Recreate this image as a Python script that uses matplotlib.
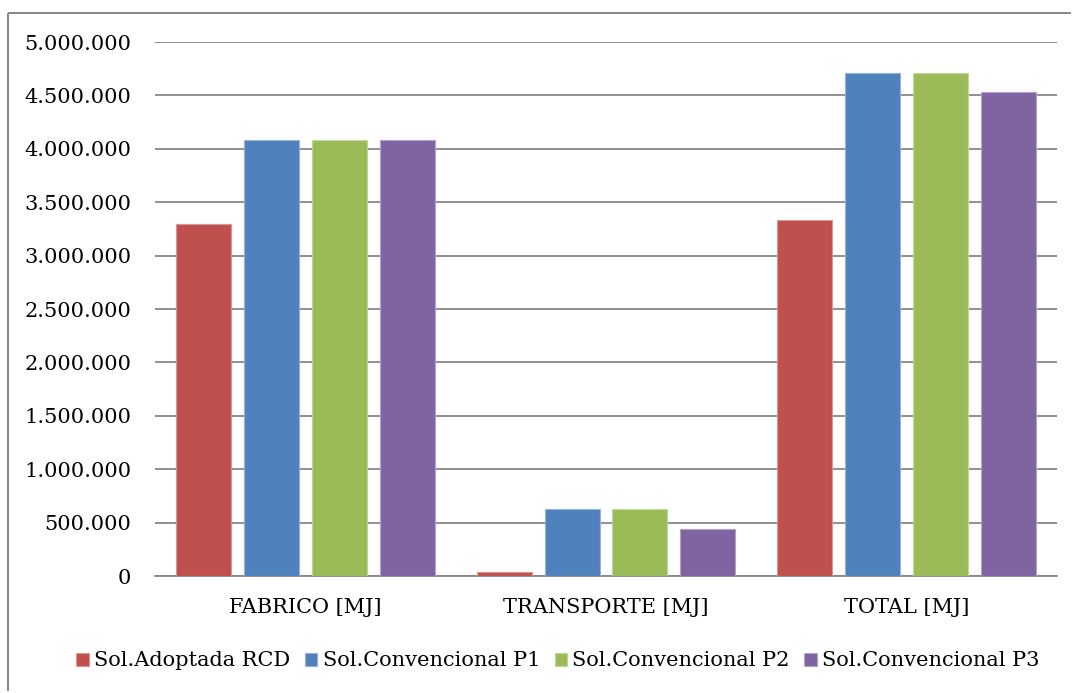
import matplotlib.pyplot as plt
import numpy as np
from matplotlib.lines import Line2D
from matplotlib.ticker import FuncFormatter, MultipleLocator

categories = ["FABRICO [MJ]", "TRANSPORTE [MJ]", "TOTAL [MJ]"]
series_names = ["Sol.Adoptada RCD", "Sol.Convencional P1",
                "Sol.Convencional P2", "Sol.Convencional P3"]
rcd = [3300000, 36000, 3338000]
p1 = [4085000, 625000, 4712000]
p2 = [4085000, 625000, 4712000]
p3 = [4085000, 444000, 4530000]

colors = ["#C0504D", "#4F81BD", "#9BBB59", "#8064A2"]
edges = ["#D99694", "#95B3D7", "#C3D69B", "#B3A2C7"]

plt.rcParams['font.family'] = ['DejaVu Serif']

fig = plt.figure(figsize=(10.73, 6.93), dpi=100)
ax = fig.add_axes([155 / 1073, 1 - 576 / 693, 902 / 1073, 534 / 693])

# outer chart frame: only the top and left edges fall inside the image
fx, fy = 8 / 1073, 1 - 13 / 693
fig.add_artist(Line2D([fx, 1071 / 1073], [fy, fy], transform=fig.transFigure,
                      color="#868686", lw=1.4, solid_capstyle="butt"))
fig.add_artist(Line2D([fx, fx], [2 / 693, fy], transform=fig.transFigure,
                      color="#868686", lw=1.4, solid_capstyle="butt"))

x = np.arange(len(categories))
slot = 0.2255
width = 0.183
for i, (vals, name) in enumerate(zip([rcd, p1, p2, p3], series_names)):
    ax.bar(x + (i - 1.5) * slot, vals, width, color=colors[i],
           edgecolor=edges[i], linewidth=0.8, label=name, zorder=3)

ax.set_xlim(-0.5, 2.5)
ax.set_ylim(0, 5000000)
ax.yaxis.set_major_locator(MultipleLocator(500000))
ax.yaxis.set_major_formatter(
    FuncFormatter(lambda v, p: f"{int(v):,}".replace(",", ".")))
ax.set_xticks(x)
ax.set_xticklabels(categories)
ax.grid(axis="y", color="#878787", lw=1.3, zorder=1)
ax.tick_params(axis="both", length=0, labelsize=15, colors="black")
ax.tick_params(axis="y", pad=17)
ax.tick_params(axis="x", pad=16)
for s in ["top", "right", "left"]:
    ax.spines[s].set_visible(False)
ax.spines["bottom"].set_color("#878787")
ax.spines["bottom"].set_linewidth(1.3)

fig.legend(loc="center", bbox_to_anchor=(558 / 1073, 1 - 661 / 693),
           ncol=4, frameon=False, fontsize=15, handlelength=0.6,
           handleheight=0.6, handletextpad=0.25, columnspacing=0.7,
           borderaxespad=0)

fig.savefig("out.png", dpi=100)
